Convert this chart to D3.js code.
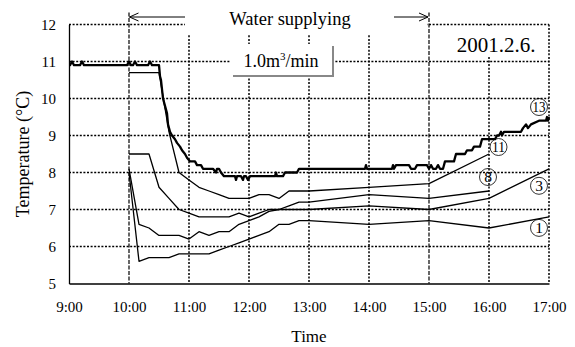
<!DOCTYPE html>
<html>
<head>
<meta charset="utf-8">
<script src="https://cdn.jsdelivr.net/npm/d3@7/dist/d3.min.js"></script>
<style>
  html, body { margin: 0; padding: 0; background: #fff; }
  svg { display: block; font-family: "Liberation Serif", "Times New Roman", serif; }
</style>
</head>
<body>
<svg id="chart" width="575" height="347"></svg>
<script>
// ---- data -------------------------------------------------------------
const xTickLabels = ["9:00", "10:00", "11:00", "12:00", "13:00", "14:00", "15:00", "16:00", "17:00"];
const yTicks = [5, 6, 7, 8, 9, 10, 11, 12];

// sampling times of the point sensors (10-minute, then hourly)
const sensorTimes = ["10:00", "10:10", "10:20", "10:30", "10:40", "10:50", "11:00", "11:10", "11:20",
  "11:30", "11:40", "11:50", "12:00", "12:10", "12:20", "12:30", "12:40", "12:50", "13:00",
  "14:00", "15:00", "16:00", "17:00"];

const s1  = [8.0, 5.6, 5.7, 5.7, 5.7, 5.8, 5.8, 5.8, 5.8, 5.9, 6.0, 6.1, 6.2, 6.3, 6.4, 6.6, 6.6, 6.7, 6.7, 6.6, 6.7, 6.5, 6.8];
const s3  = [8.1, 6.6, 6.5, 6.3, 6.3, 6.3, 6.2, 6.4, 6.3, 6.4, 6.4, 6.6, 6.7, 6.8, 6.95, 7.0, 7.0, 7.0, 7.0, 7.1, 7.0, 7.3, 8.1];
const s8  = [8.5, 8.5, 8.5, 7.6, 7.3, 7.0, 6.9, 6.8, 6.8, 6.8, 6.8, 6.9, 6.8, 6.9, 7.0, 7.0, 7.1, 7.2, 7.2, 7.4, 7.3, 7.5, null];
const s11 = [10.7, 10.7, 10.7, 10.7, 9.1, 8.0, 7.8, 7.6, 7.5, 7.4, 7.3, 7.3, 7.3, 7.4, 7.4, 7.3, 7.5, 7.5, 7.5, 7.6, 7.7, 8.5, null];

// continuous logger (point 13): change points of the record
const s13Times = ["9:00", "9:01", "9:03", "9:05", "9:11", "9:13", "9:15", "9:58", "10:00", "10:02", "10:04", "10:06",
  "10:08", "10:19", "10:21", "10:23", "10:30", "10:31", "10:32", "10:34", "10:36", "10:38", "10:39", "10:41",
  "10:43", "10:46", "10:48", "10:51", "10:53", "10:56", "10:58", "11:01", "11:06", "11:08", "11:12", "11:14",
  "11:24", "11:27", "11:28", "11:30", "11:32", "11:35", "11:46", "11:47", "11:48", "11:52", "11:54", "11:55",
  "11:57", "11:59", "12:01", "12:26", "12:27", "12:28", "12:34", "12:36", "12:48", "12:50", "13:56", "13:57",
  "13:58", "14:23", "14:24", "14:25", "14:27", "14:40", "14:42", "14:46", "14:48", "14:58", "15:00", "15:02",
  "15:04", "15:07", "15:09", "15:11", "15:14", "15:16", "15:25", "15:27", "15:36", "15:38", "15:43", "15:45",
  "15:51", "15:53", "16:06", "16:08", "16:10", "16:12", "16:13", "16:15", "16:32", "16:34", "16:37", "16:39",
  "16:42", "16:50", "16:57", "16:58", "16:59", "17:00"];
const s13Values = [10.9, 10.9, 11.0, 10.9, 10.9, 11.0, 10.9, 10.9, 11.0, 10.9, 10.9, 11.0,
  10.9, 10.9, 11.0, 10.9, 10.9, 10.6, 10.5, 10.0, 9.8, 9.6, 9.3, 9.1,
  9.0, 8.9, 8.8, 8.7, 8.6, 8.5, 8.4, 8.3, 8.3, 8.2, 8.2, 8.1,
  8.1, 8.0, 8.1, 8.1, 8.0, 7.9, 7.9, 7.8, 7.9, 7.9, 7.8, 7.9,
  7.9, 7.8, 7.9, 7.9, 8.0, 7.9, 7.9, 8.0, 8.0, 8.1, 8.1, 8.2,
  8.1, 8.1, 8.2, 8.1, 8.2, 8.2, 8.1, 8.1, 8.2, 8.2, 8.1, 8.2,
  8.1, 8.1, 8.2, 8.1, 8.1, 8.3, 8.3, 8.5, 8.5, 8.6, 8.6, 8.7,
  8.7, 8.9, 8.9, 9.0, 9.0, 9.1, 9.0, 9.1, 9.1, 9.2, 9.3, 9.2,
  9.3, 9.4, 9.4, 9.5, 9.4, 9.5];

const seriesNames = ["1", "3", "8", "11", "13"];
const supplyStart = "10:00", supplyEnd = "15:00";
const titleText = "Water supplying";
const dateText = "2001.2.6.";

// ---- helpers ----------------------------------------------------------
const toMin = s => { const [h, m] = s.split(":").map(Number); return h * 60 + m; };
const serif = "Liberation Serif, Times New Roman, serif";

const svg = d3.select("#chart");
const x = d3.scaleLinear().domain([toMin("9:00"), toMin("17:00")]).range([69, 549]);
const y = d3.scaleLinear().domain([5, 12]).range([283.5, 24.5]);

// ---- grid -------------------------------------------------------------
const grid = svg.append("g");
grid.selectAll("line.h").data(yTicks.filter(v => v > 5)).enter().append("line")
  .attr("x1", x.range()[0]).attr("x2", x.range()[1])
  .attr("y1", d => y(d)).attr("y2", d => y(d))
  .attr("stroke", "#000").attr("stroke-width", 1.5).attr("stroke-dasharray", "2,1.6");

const special = [toMin(supplyStart), toMin(supplyEnd)];
grid.selectAll("line.v").data(xTickLabels.slice(1).map(toMin)).enter().append("line")
  .attr("x1", d => x(d)).attr("x2", d => x(d))
  .attr("y1", d => special.includes(d) ? 12.5 : y(12)).attr("y2", y(5))
  .attr("stroke", "#000")
  .attr("stroke-width", d => special.includes(d) ? 1.2 : 1.5)
  .attr("stroke-dasharray", d => special.includes(d) ? "4,1.5" : "2,1.6");

// ---- axes -------------------------------------------------------------
const yAxis = d3.axisLeft(y).tickValues(yTicks).tickSize(0).tickSizeOuter(0).tickPadding(13).tickFormat(d3.format("d"));
const gy = svg.append("g").attr("transform", `translate(${x.range()[0]},0)`).call(yAxis);
gy.select(".domain").attr("stroke", "#000").attr("stroke-width", 1.3);
gy.selectAll("text").attr("font-size", 15).attr("font-family", serif).attr("fill", "#000");

const xAxis = d3.axisBottom(x).tickValues(xTickLabels.map(toMin)).tickSize(0).tickSizeOuter(0).tickPadding(18)
  .tickFormat((d, i) => xTickLabels[i]);
const gx = svg.append("g").attr("transform", `translate(0,${y(5)})`).call(xAxis);
gx.select(".domain").attr("stroke", "#000").attr("stroke-width", 1.3);
gx.selectAll("text").attr("font-size", 15).attr("font-family", serif).attr("fill", "#000");

svg.append("text").attr("x", (x.range()[0] + x.range()[1]) / 2).attr("y", 342)
  .attr("text-anchor", "middle").attr("font-size", 17).text("Time");
svg.append("text").attr("transform", `translate(29,${(y(5) + y(12)) / 2}) rotate(-90)`)
  .attr("text-anchor", "middle").attr("font-size", 18).text("Temperature (\u00B0C)");

// ---- annotation boxes -------------------------------------------------
// title band over the top of the grid
svg.append("rect").attr("x", 185).attr("y", 0).attr("width", 242).attr("height", 35).attr("fill", "#fff");
svg.append("text").attr("x", 290).attr("y", 25).attr("text-anchor", "middle").attr("font-size", 18.5).text(titleText);

// supply period arrows
const arrowY = 17;
function arrow(x1, x2) {
  const g = svg.append("g").attr("stroke", "#000").attr("stroke-width", 1).attr("fill", "none");
  g.append("line").attr("x1", x1).attr("x2", x2).attr("y1", arrowY).attr("y2", arrowY);
  const dir = Math.sign(x2 - x1);
  g.append("path").attr("d", `M${x2 - dir * 9},${arrowY - 4}L${x2},${arrowY}L${x2 - dir * 9},${arrowY + 4}`);
}
arrow(185, x(toMin(supplyStart)) + 0.5);
arrow(394, x(toMin(supplyEnd)) - 1);

// flow-rate box with shadow
svg.append("rect").attr("x", 231).attr("y", 44).attr("width", 102).attr("height", 32).attr("fill", "#fff");
svg.append("path").attr("d", "M233,76H333V46").attr("fill", "none").attr("stroke", "#888").attr("stroke-width", 2);
const flow = svg.append("text").attr("x", 281).attr("y", 67).attr("text-anchor", "middle").attr("font-size", 18);
flow.append("tspan").text("1.0m");
flow.append("tspan").attr("font-size", 11).attr("dy", -7).text("3");
flow.append("tspan").attr("dy", 7).text("/min");

// date box
svg.append("rect").attr("x", 432).attr("y", 26).attr("width", 114).attr("height", 31).attr("fill", "#fff");
svg.append("text").attr("x", 496).attr("y", 52).attr("text-anchor", "middle").attr("font-size", 21).text(dateText);

// ---- series -----------------------------------------------------------
const line = d3.line().defined(d => d.v != null).x(d => x(d.t)).y(d => y(d.v));
const thin = [s1, s3, s8, s11].map(vals => vals.map((v, i) => ({ t: toMin(sensorTimes[i]), v })));
svg.append("g").selectAll("path").data(thin).enter().append("path")
  .attr("d", line).attr("fill", "none").attr("stroke", "#000").attr("stroke-width", 1.3).attr("stroke-linejoin", "round");

const thick = s13Times.map((t, i) => ({ t: toMin(t), v: s13Values[i] }));
svg.append("path").datum(thick).attr("d", line).attr("fill", "none").attr("stroke", "#000")
  .attr("stroke-width", 2.3).attr("stroke-linejoin", "round");

// ---- circled point labels (placed relative to each series' last point) --
const allSeries = [thin[0], thin[1], thin[2], thin[3], thick];
const labelOffsets = [[-10, 11], [-10, 17], [-1, -14], [9.5, -7], [-10, -10]];
const lab = svg.append("g");
allSeries.forEach((ser, i) => {
  const pts = ser.filter(d => d.v != null);
  const last = pts[pts.length - 1];
  const cx = x(last.t) + labelOffsets[i][0], cy = y(last.v) + labelOffsets[i][1];
  lab.append("circle").attr("cx", cx).attr("cy", cy).attr("r", 8.5)
    .attr("fill", "none").attr("stroke", "#000").attr("stroke-width", 0.8);
  const t = lab.append("text").attr("x", cx).attr("y", cy + 5.2).attr("text-anchor", "middle")
    .attr("font-size", 15.5).text(seriesNames[i]);
  if (seriesNames[i].length > 1) t.attr("textLength", 13).attr("lengthAdjust", "spacingAndGlyphs");
});
</script>
</body>
</html>
